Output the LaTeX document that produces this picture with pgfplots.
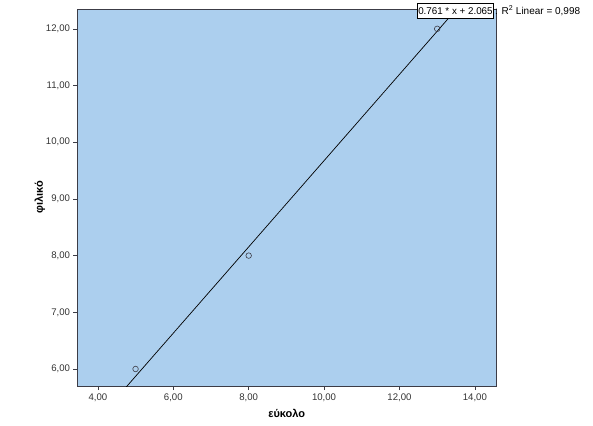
\documentclass[border=0pt]{standalone}
\usepackage{fontspec}
\setmainfont{Liberation Sans}
\usepackage{pgfplots}
\pgfplotsset{compat=1.18}
\usetikzlibrary{calc}
\definecolor{bgblue}{RGB}{172,207,238}
\definecolor{frame}{RGB}{60,60,70}
\begin{document}
\begin{tikzpicture}
\path[use as bounding box] (-77.5pt,-39pt) rectangle (515.5pt,386pt);
\begin{axis}[
  name=ax,
  at={(0,0)}, anchor=south west,
  scale only axis,
  width=418.5pt, height=377pt,
  xmin=3.46, xmax=14.56,
  ymin=5.70, ymax=12.35,
  xtick={4,6,8,10,12,14},
  ytick={6,7,8,9,10,11,12},
  xtick pos=bottom, ytick pos=left,
  tick align=outside,
  major tick length=4pt,
  tick style={frame, line width=0.6pt},
  axis line style={frame, line width=0.8pt},
  axis background/.style={fill=bgblue},
  /pgf/number format/.cd, fixed, fixed zerofill, precision=2, use comma, assume math mode=true,
  /pgfplots/.cd,
  ticklabel style={font=\fontsize{9.6}{11}\selectfont, text=black!80},
  xlabel={\textbf{εύκολο}},
  ylabel={\textbf{φιλικό}},
  label style={font=\fontsize{11}{13}\selectfont},
  xlabel style={at={(axis description cs:0.5,-0.0716)}, anchor=center},
  ylabel style={at={(axis description cs:-0.0896,0.5)}, anchor=center, rotate=0},
  clip=true,
]
\addplot[only marks, mark=o, mark size=2.8pt, mark options={draw=frame, line width=0.6pt}] coordinates {
  (5,6) (8,8) (13,12)
};
\addplot[black, line width=0.7pt] coordinates {
  (4.6,5.566) (13.6,12.4146)
};
\end{axis}
\node[draw=black, line width=0.5pt, fill=white, inner sep=1pt, anchor=north west,
      minimum height=15pt, font=\fontsize{9.8}{11}\selectfont]
  (eq) at ($(ax.north west)+(339.5pt,6pt)$) {0.761 * x + 2.065};
\node[anchor=west, inner sep=1pt, font=\fontsize{10}{11}\selectfont] at (eq.east) {: R\textsuperscript{2} Linear = 0,998};
\end{tikzpicture}
\end{document}
